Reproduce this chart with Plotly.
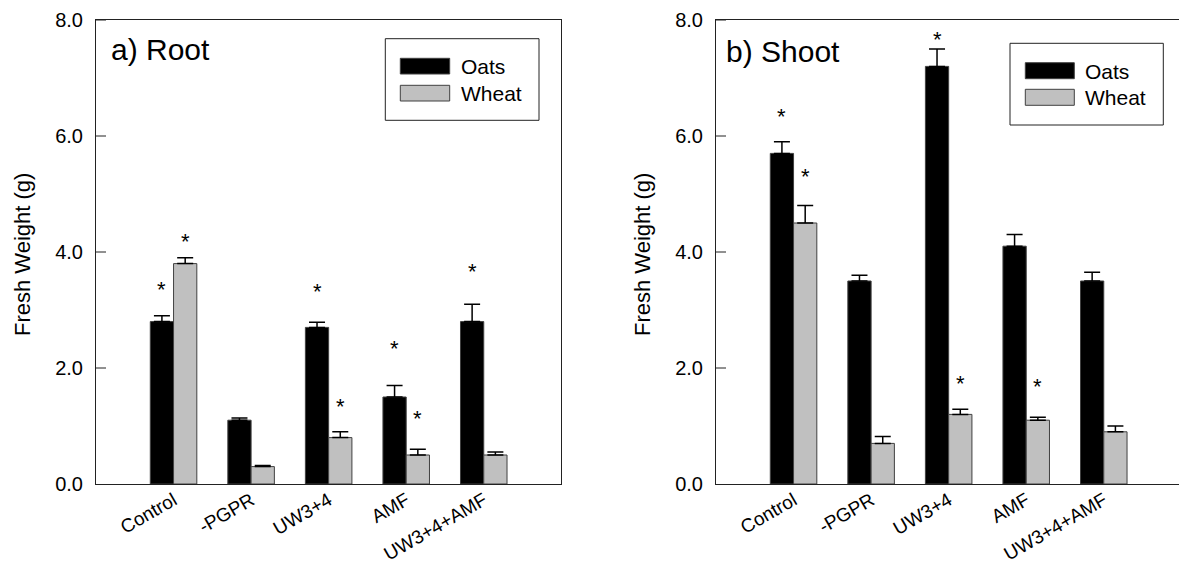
import plotly.graph_objects as go

# ---- data -----------------------------------------------------------------
treatments = ["Control", "-PGPR", "UW3+4", "AMF", "UW3+4+AMF"]
series = ["Oats", "Wheat"]

root_oats = [2.8, 1.1, 2.7, 1.5, 2.8]
root_oats_err = [0.1, 0.04, 0.09, 0.2, 0.3]
root_wheat = [3.8, 0.3, 0.8, 0.5, 0.5]
root_wheat_err = [0.1, 0.02, 0.1, 0.1, 0.05]

shoot_oats = [5.7, 3.5, 7.2, 4.1, 3.5]
shoot_oats_err = [0.2, 0.1, 0.3, 0.2, 0.15]
shoot_wheat = [4.5, 0.7, 1.2, 1.1, 0.9]
shoot_wheat_err = [0.3, 0.12, 0.09, 0.05, 0.1]

# heights of the significance asterisks (None = not significant)
root_star_oats = [3.40, None, 3.37, 2.38, 3.72]
root_star_wheat = [4.23, None, 1.38, 1.18, None]
shoot_star_oats = [6.39, None, 7.72, None, None]
shoot_star_wheat = [5.36, None, 1.79, 1.74, None]

y_ticks = [0, 2, 4, 6, 8]

# ---- styling ----------------------------------------------------------------
W, H = 1179, 569
FONT = "Liberation Sans, Arial, Helvetica, sans-serif"
OATS_FILL = "#000000"
WHEAT_FILL = "#c0c0c0"
EDGE = "#404040"
AXIS = "#222222"
TICK_LEN = 10  # px, inward y ticks


def px(x):
    return x / W


def py(y):
    return 1 - y / H


fig = go.Figure()


def add_bars(xa, ya, oats, oats_err, wheat, wheat_err):
    for name, vals, err, fill in (
        ("Oats", oats, oats_err, OATS_FILL),
        ("Wheat", wheat, wheat_err, WHEAT_FILL),
    ):
        fig.add_trace(go.Bar(
            x=treatments, y=vals, name=name, xaxis=xa, yaxis=ya,
            marker=dict(color=fill, line=dict(color=EDGE, width=1)),
            error_y=dict(type="data", symmetric=False, array=err,
                         arrayminus=[0] * len(err), color="#000000",
                         thickness=1.5, width=8),
            showlegend=False,
        ))


add_bars("x", "y", root_oats, root_oats_err, root_wheat, root_wheat_err)
add_bars("x2", "y2", shoot_oats, shoot_oats_err, shoot_wheat, shoot_wheat_err)

annotations = []
shapes = []

# short inward tick marks on each y axis
for xref, yref in (("x domain", "y"), ("x2 domain", "y2")):
    for v in y_ticks[1:]:
        shapes.append(dict(type="line", xref=xref, yref=yref,
                           xsizemode="pixel", xanchor=0, x0=0, x1=TICK_LEN,
                           y0=v, y1=v, line=dict(color=AXIS, width=1),
                           layer="above"))


def add_stars(xref, yref, stars, offset):
    for i, s in enumerate(stars):
        if s is None:
            continue
        annotations.append(dict(
            x=i + offset, y=s, xref=xref, yref=yref, text="*",
            showarrow=False, xanchor="center", yanchor="middle", yshift=-3,
            font=dict(family=FONT, size=22, color="#000000"),
        ))


add_stars("x", "y", root_star_oats, -0.15)
add_stars("x", "y", root_star_wheat, 0.15)
add_stars("x2", "y2", shoot_star_oats, -0.15)
add_stars("x2", "y2", shoot_star_wheat, 0.15)


def add_legend(box, swatch_x, swatch_rows, text_x):
    x0, y0, x1, y1 = box
    shapes.append(dict(type="rect", xref="paper", yref="paper",
                       x0=px(x0), x1=px(x1), y0=py(y1), y1=py(y0),
                       line=dict(color=AXIS, width=1), fillcolor="white",
                       layer="above"))
    for name, (r0, r1), fill in zip(series, swatch_rows, (OATS_FILL, WHEAT_FILL)):
        shapes.append(dict(type="rect", xref="paper", yref="paper",
                           x0=px(swatch_x[0]), x1=px(swatch_x[1]),
                           y0=py(r1), y1=py(r0),
                           line=dict(color=EDGE, width=1), fillcolor=fill,
                           layer="above"))
        annotations.append(dict(
            x=px(text_x), y=py((r0 + r1) / 2 + 0.5), xref="paper", yref="paper",
            text=name, showarrow=False, xanchor="left", yanchor="middle",
            font=dict(family=FONT, size=21, color="#000000"),
        ))


add_legend((385.3, 38.7, 539, 120.3), (400.3, 449.7),
           [(58.3, 74.0), (85.3, 101.0)], 459)
add_legend((1010, 43.3, 1163.3, 125), (1025.3, 1074.3),
           [(62.7, 78.7), (89.3, 105.3)], 1083)

# panel labels
annotations.append(dict(x=px(109), y=py(49.5), xref="paper", yref="paper",
                        text="a) Root", showarrow=False, xanchor="left",
                        yanchor="middle",
                        font=dict(family=FONT, size=30, color="#000000")))
annotations.append(dict(x=px(724), y=py(51.5), xref="paper", yref="paper",
                        text="b) Shoot", showarrow=False, xanchor="left",
                        yanchor="middle",
                        font=dict(family=FONT, size=30, color="#000000")))

# y-axis titles
for xc in (22, 642):
    annotations.append(dict(x=px(xc), y=py(255), xref="paper", yref="paper",
                            text="Fresh Weight (g)", showarrow=False,
                            textangle=-90, xanchor="center", yanchor="middle",
                            font=dict(family=FONT, size=22, color="#000000")))

y_dom = [py(484), py(20)]
# transparent outward ticks keep the labels clear of the axis line
yaxis_common = dict(
    range=[0, 8], tickvals=y_ticks, ticktext=[f"{v:.1f}" for v in y_ticks],
    ticks="outside", ticklen=8, tickwidth=1, tickcolor="rgba(0,0,0,0)",
    showline=True, linecolor=AXIS, linewidth=1, showgrid=False,
    zeroline=False, automargin=False,
    tickfont=dict(family=FONT, size=20, color="#000000"),
)
xaxis_common = dict(
    type="category", ticks="", showline=True, linecolor=AXIS, linewidth=1,
    mirror=True, showgrid=False, zeroline=False, tickangle=-30,
    ticklabelstandoff=-3,
    automargin=False, tickfont=dict(family=FONT, size=19, color="#000000"),
)

fig.update_layout(
    width=W, height=H,
    margin=dict(l=0, r=0, t=0, b=0),
    paper_bgcolor="white", plot_bgcolor="white",
    barmode="group", bargap=0.4, bargroupgap=0,
    xaxis=dict(domain=[px(96), px(561.3)], range=[-1, 5], anchor="y",
               **xaxis_common),
    yaxis=dict(domain=y_dom, anchor="x", mirror=True, **yaxis_common),
    xaxis2=dict(domain=[px(716), 1.0], range=[-1, 4.97], anchor="y2",
                **xaxis_common),
    yaxis2=dict(domain=y_dom, anchor="x2", mirror=False, **yaxis_common),
    annotations=annotations,
    shapes=shapes,
    font=dict(family=FONT, color="#000000"),
)

fig.write_html("out.html")
